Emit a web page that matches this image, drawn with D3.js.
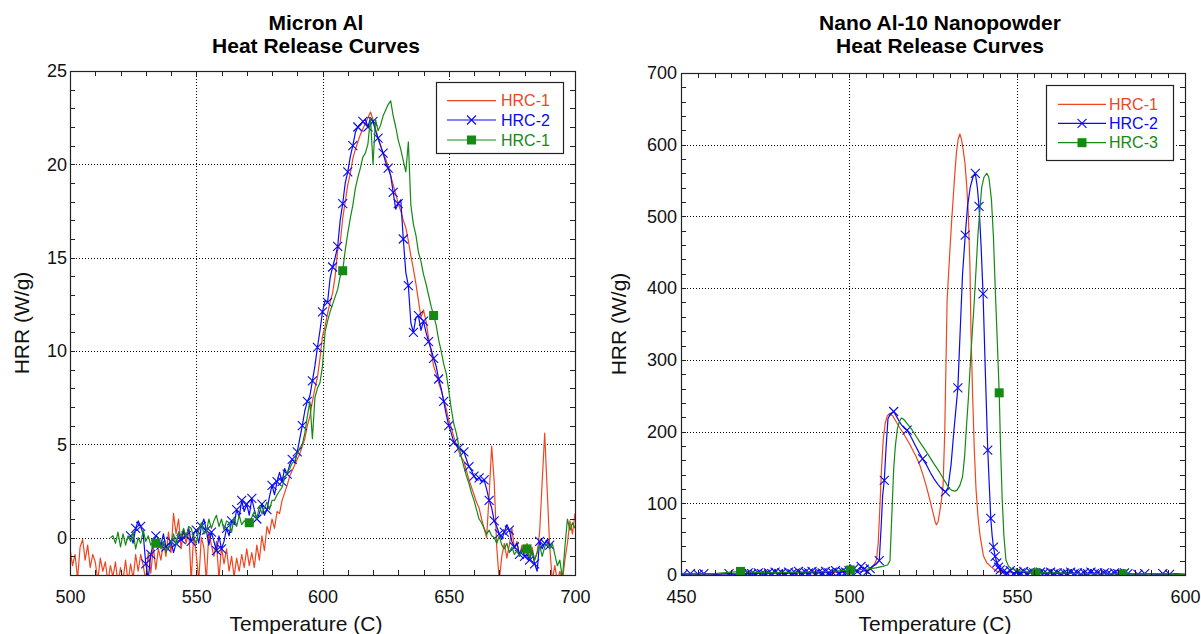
<!DOCTYPE html>
<html lang="en">
<head>
<meta charset="UTF-8">
<title>Heat Release Curves</title>
<style>
body { margin: 0; background: #fff; }
svg { display: block; font-family: "Liberation Sans", Arial, sans-serif; }
.grid line { stroke: #000; stroke-width: 1; stroke-dasharray: 1,2; shape-rendering: crispEdges; }
.minor line { stroke: #222; shape-rendering: crispEdges; }
.grid .domain, .minor .domain, .labels .domain { display: none; }
.labels text { font-size: 18px; font-family: "Liberation Sans", Arial, sans-serif; fill: #111; }
.title { font-size: 21px; font-weight: bold; fill: #000; }
.axis-title { font-size: 21px; fill: #111; }
.legend text { font-size: 16px; }
</style>
</head>
<body>
<svg width="1201" height="634"></svg>
<script src="https://d3js.org/d3.v7.min.js"></script>
<script>
// ---------- Micron Al (sampled every 1 C) ----------
const micronStep = 1;
const micronXTicks = [500, 550, 600, 650, 700];
const micronYTicks = [0, 5, 10, 15, 20, 25];
const micronLegend = ['HRC-1', 'HRC-2', 'HRC-1'];

const micronRedStart = 500;
const micronRed = [
  -0.6,-1.5,-0.9,-2.2,-0.5,-0.1,-1.2,-0.4,-1.6,-0.9,   // 500
  -1.3,-2.3,-1.1,-1.8,-1.3,-2.4,-1.5,-2.1,-1.3,-2.5,   // 510
  -1.6,-2.3,-1.2,-2.4,-1.4,-2.2,-0.9,-1.8,-0.9,-1.5,   // 520
  -2.3,-0.8,-1.9,-0.5,-1.7,-0.6,-1.2,-0.2,-1.0,0.3,    // 530
  -0.8,1.3,0.2,1.0,-0.6,0.4,-0.3,0.5,-2.3,0.2,         // 540
  -0.9,-2.3,0.0,-0.5,-2.3,0.3,-0.4,-1.0,-0.2,-2.2,     // 550
  -0.5,-1.4,-0.6,-1.8,-1.0,-2.1,-1.1,-1.8,-0.9,-1.6,   // 560
  -0.6,-1.5,-0.8,-1.6,-0.4,-1.2,0.1,-0.7,0.6,0.2,      // 570
  1.0,0.5,1.4,1.3,2.0,2.4,2.8,3.3,3.6,3.9,             // 580
  4.2,4.5,4.9,5.3,6.0,6.5,7.3,8.0,8.6,9.6,             // 590
  10.8,11.3,12.0,12.6,13.1,14.0,15.4,15.8,17.1,18.0,   // 600
  18.9,19.5,20.3,20.8,21.2,21.6,21.9,22.2,22.5,22.8,   // 610
  22.4,21.9,21.4,21.0,20.6,20.3,19.9,19.4,18.9,18.4,   // 620
  17.9,17.5,17.0,16.6,15.9,15.1,14.4,13.6,12.7,11.8,   // 630
  12.2,11.6,10.7,10.0,9.2,8.8,8.3,7.9,7.4,6.9,         // 640
  6.3,5.9,5.4,5.0,4.6,4.3,4.1,3.6,3.1,2.7,             // 650
  2.3,1.9,1.6,1.0,0.5,0.0,2.3,4.9,3.0,-0.5,            // 660
  -2.3,-1.0,-0.3,-1.1,-0.4,0.5,-0.6,-0.2,-1.0,-0.4,    // 670
  -0.9,-0.3,-1.1,-0.5,-1.2,-0.8,0.3,3.0,5.6,2.5,       // 680
  -0.5,-2.3,-1.5,-2.3,-1.8,-2.3,-1.2,-0.3,0.9,0.2,     // 690
  1.3                                                  // 700
];

const micronBlueStart = 524;
const micronBlue = [
  0.1,-0.3,0.5,0.9,0.6,0.2,-1.4,-2.2,-0.9,-0.3,        // 524
  0.1,0.0,-0.4,0.2,-0.5,-0.6,-0.2,-0.8,-0.3,0.3,       // 534
  -0.1,0.4,0.1,0.5,-0.2,0.2,0.4,-0.3,0.6,1.0,          // 544
  0.4,-0.4,0.3,-0.2,-0.7,0.1,-0.6,-0.2,0.5,0.1,        // 554
  0.9,0.7,1.5,1.1,2.0,1.4,1.8,1.2,2.1,1.5,             // 564
  1.0,1.3,1.8,1.2,1.5,2.2,2.8,2.3,3.0,3.5,             // 574
  3.0,3.7,3.4,3.9,4.2,4.0,4.6,5.3,6.0,6.8,             // 584
  7.3,7.6,8.4,9.2,10.2,11.1,12.1,12.7,12.6,13.9,       // 594
  14.5,15.0,15.6,17.0,17.9,19.0,19.6,20.4,21.0,21.7,   // 604
  22.0,22.1,22.3,22.4,22.0,22.5,22.3,21.8,21.4,21.0,   // 614
  20.6,20.1,19.8,19.4,18.5,17.6,17.9,18.1,16.0,14.2,   // 624
  13.5,11.5,11.0,11.8,11.9,11.1,11.6,11.0,10.5,10.1,   // 634
  9.6,9.2,8.5,8.0,7.3,6.6,6.0,5.6,5.1,5.0,             // 644
  4.8,4.7,4.6,4.2,3.8,3.6,3.3,3.1,3.2,3.0,             // 654
  3.1,2.6,2.0,1.6,0.9,0.6,0.2,-0.1,0.3,0.7,            // 664
  0.4,-0.2,-0.5,-0.3,-0.9,-0.6,-1.0,-0.9,-1.2,-0.7,    // 674
  -1.4,-1.8,-0.2,-0.6,-0.3,-0.1,-0.4                   // 684
];
const micronBlueMarkEvery = 2;

const micronGreenStart = 516;
const micronGreen = [
  0.0,0.1,-0.3,0.3,-0.5,0.2,-0.4,0.1,-0.2,0.3,         // 516
  -0.6,0.0,-0.3,0.4,-0.2,0.1,-0.4,-0.2,-0.3,0.0,       // 526
  -0.6,-0.2,-0.8,-0.5,-0.3,0.2,-0.4,0.3,0.1,0.5,       // 536
  0.0,0.6,0.5,0.0,-0.3,0.4,0.8,0.2,0.3,1.0,            // 546
  0.5,0.9,1.2,0.6,1.0,0.4,0.9,0.8,0.3,1.1,             // 556
  0.6,1.2,0.7,0.9,0.8,0.8,1.1,1.4,1.0,1.7,             // 566
  1.3,1.6,1.9,1.5,2.0,2.0,2.3,2.5,2.7,3.2,             // 576
  3.5,3.7,4.0,4.1,4.5,4.8,5.0,5.6,6.5,7.3,             // 586
  5.3,7.5,8.0,8.3,9.2,11.0,11.6,12.1,12.5,12.9,        // 596
  13.3,14.0,14.3,15.4,16.3,17.1,17.8,18.7,19.3,19.8,   // 606
  20.4,20.6,21.1,22.5,20.0,22.4,21.8,22.1,22.6,22.9,   // 616
  23.2,23.4,22.6,22.0,21.3,20.8,20.2,19.6,21.2,17.8,   // 626
  16.8,16.2,15.3,14.8,14.1,13.6,13.0,12.4,11.9,11.4,   // 636
  10.6,10.0,9.3,8.8,7.9,6.9,6.1,5.6,4.9,4.3,           // 646
  3.8,3.3,2.9,2.4,2.0,1.5,1.0,0.8,0.5,0.2,             // 656
  0.4,0.1,0.0,-0.3,0.1,-0.4,-0.6,-0.3,-0.8,-0.5,       // 666
  -0.9,-0.7,-1.0,-0.6,-0.8,-0.6,-1.1,-0.7,-1.2,-0.8,   // 676
  -0.4,-1.0,-0.5,-0.3,-0.6,-0.3,-0.9,-1.5,-1.2,-2.2,   // 686
  -0.5,1.0,0.4,0.8,0.5                                 // 696
];
const micronGreenMarkT = [534, 571, 608, 644, 681];

// ---------- Nano Al-10 (temperature, HRR) ----------
const nanoXTicks = [450, 500, 550, 600];
const nanoYTicks = [0, 100, 200, 300, 400, 500, 600, 700];
const nanoLegend = ['HRC-1', 'HRC-2', 'HRC-3'];

const nanoRed = [
  [450,1],[455,2],[460,1],[465,2],[470,1.5],[475,2.5],[480,2],[485,3],[490,2.5],[495,3.5],
  [500,4],[502,5],[504,5],[505.5,6],[506.5,9],[507.5,14],[508.2,22],[508.7,45],[509.2,95],
  [509.7,150],[510.2,190],[510.8,212],[511.4,222],[512,225],[513,222],[514,214],[515,206],
  [516,199],[517,191],[518,183],[519,174],[520,165],[521,154],[522,140],[523,124],[524,106],
  [525,87],[525.6,75],[526,70],[526.5,74],[527,88],[527.5,104],[528,125],[528.5,200],
  [529.2,383],[530,450],[530.5,490],[531,525],[531.5,560],[532,590],[532.5,608],[533,615],
  [533.5,607],[534,592],[534.5,575],[535,545],[535.5,505],[536,430],[536.3,340],[536.8,250],
  [537.3,174],[537.8,120],[538.4,81],[539,55],[540,27],[541,17],[542.4,11],[544,5],[545,4],
  [547,3],[550,3.5],[555,2.5],[560,2],[565,2.5],[570,2],[575,2],[580,1.5],[585,2],[590,1.5],
  [595,1],[600,1]
];

const nanoBlue = [
  [450,2],[450.6,1],[452.8,2],[455.1,1],[456.8,2],[460,1],[464.3,2],[466,1],[468,2],[469,1],
  [470,3],[471,2],[472,1],[473,3],[474,2],[475,1],[476,3],[477,2],[478,4],[479,2],[480,3],
  [481,1],[482,4],[483,2],[484,3],[485,5],[486,2],[487,4],[488,3],[489,5],[490,2],[491,4],
  [492,3],[493,5],[494,3],[495,4],[496,6],[497,3],[498,5],[499,4],[500,6],[501.5,9],
  [502.5,5],[503.6,12],[504.5,8],[505.5,5],[506.3,9],[507,12],[508,15],[509,20],[509.6,70],
  [510,110],[510.5,132],[511,175],[511.6,218],[512.3,225],[513.3,228],[514.5,218],[515.5,210],
  [516.4,205],[517.3,202],[518.5,192],[519.7,181],[520.8,171],[521.9,162],[523,154],
  [524.2,143],[525.3,134],[526.5,126],[527.6,120],[528.7,116],[529.5,122],[530.4,155],
  [531.2,200],[532.4,261],[533,330],[533.8,420],[534.6,474],[535.3,515],[536.1,541],
  [536.9,555],[537.6,560],[538.2,540],[538.7,514],[539.3,460],[539.9,392],[540.6,280],
  [541.3,174],[541.8,120],[542.2,79],[542.6,55],[543,39],[543.5,26],[544,17],[544.5,11],
  [545,7],[546,5],[547,3],[548,6],[549,2],[550,4],[551,3],[552,5],[553,2],[554,4],[555,3],
  [556,2],[557,4],[558,3],[559,2],[560,4],[561,2],[562,3],[563,1],[564,3],[565,2],[566,4],
  [567,2],[568,3],[569,1],[570,3],[571,2],[572,4],[573,2],[574,3],[575,1],[576,3],[577,2],
  [578,1],[579,3],[580,2],[581,1],[582,3],[583,2],[586,1],[588,2],[592,1],[593.4,2],
  [595.4,1],[597,2],[600,1]
];
const nanoBlueMarkT = [
  450.6,452.8,455.1,456.8,464.3,
  468,469,470,471,472,473,474,475,476,477,478,479,480,481,482,483,484,485,486,487,488,489,
  490,491,492,493,494,495,496,497,498,499,500,
  501.5,502.5,503.6,504.5,505.5,506.3,509,510.5,513.3,517.3,521.9,528.7,532.4,534.6,537.6,
  538.7,539.9,541.3,542.2,543,543.5,544,544.5,545,
  546,547,548,549,550,551,552,553,554,555,556,557,558,559,560,561,562,563,564,565,566,567,
  568,569,570,571,572,573,574,575,576,577,578,579,580,581,582,583,
  586,588,593.4,595.4
];

const nanoGreen = [
  [450,2],[455,1.5],[460,2],[467.7,5],[475,3],[485,4],[495,5],[500.4,7],[505,8],[508,10],
  [510,12],[511.5,14],[512.2,20],[512.8,90],[513.3,148],[513.8,180],[514.4,204],[515,214],
  [515.6,219],[516.3,217],[517.3,211],[518.5,204],[519.5,197],[520.7,188],[522,179],[523,172],
  [524.1,164],[525,157],[526,150],[527,143],[528,135],[529,127],[529.8,121],[530.6,118],
  [531.5,117],[532.1,118],[533,125],[533.8,137],[534.4,165],[535,210],[535.5,244],[536.3,310],
  [537.3,383],[538.4,476],[539.5,541],[540.2,555],[541,560],[541.6,555],[542,540],[542.4,523],
  [543,470],[543.5,402],[544.1,330],[544.7,254],[545.1,180],[545.6,105],[546.1,55],[546.7,21],
  [547.5,12],[548.7,8],[550,6],[555.7,3],[562,3],[570,2],[581.5,1.5],[590,2],[600,1]
];
const nanoGreenMarkT = [467.7, 500.4, 544.7, 555.7, 581.5];

const RED = '#f0461e', BLUE = '#0a0af5', GREEN = '#148a14';

// ---------- helpers ----------
function sampled(start, values) {
  return values.map((v, i) => [start + i * micronStep, v]);
}
function pick(points, temps) {
  var m = new Map(points.map(d => [d[0], d[1]]));
  return temps.filter(t => m.has(t)).map(t => [t, m.get(t)]);
}

var svg = d3.select('svg');

function marker(sel, type, color) {
  if (type === 'x') {
    sel.append('path')
      .attr('d', 'M-4.5,-4.5L4.5,4.5M-4.5,4.5L4.5,-4.5')
      .attr('stroke', color).attr('stroke-width', 1.1).attr('fill', 'none');
  } else if (type === 'square') {
    sel.append('rect')
      .attr('x', -4.5).attr('y', -4.5).attr('width', 9).attr('height', 9)
      .attr('fill', color);
  }
}

function drawPanel(p) {
  var x = d3.scaleLinear().domain(p.xDomain).range([p.left, p.right]);
  var y = d3.scaleLinear().domain(p.yDomain).range([p.bottom, p.top]);
  var w = p.right - p.left, h = p.bottom - p.top;
  var g = svg.append('g');

  // dotted grid on inner major ticks
  var xGrid = p.xTicks.filter(v => v > p.xDomain[0] && v < p.xDomain[1]);
  var yGrid = p.yTicks.filter(v => v > p.yDomain[0] && v < p.yDomain[1]);
  g.append('g').attr('class', 'grid')
    .attr('transform', 'translate(0,' + p.bottom + ')')
    .call(d3.axisBottom(x).tickValues(xGrid).tickSize(-h).tickFormat(''));
  g.append('g').attr('class', 'grid')
    .attr('transform', 'translate(' + p.left + ',0)')
    .call(d3.axisLeft(y).tickValues(yGrid).tickSize(-w).tickFormat(''));

  // curves
  var clipId = 'clip-' + p.id;
  g.append('clipPath').attr('id', clipId).append('rect')
    .attr('x', p.left).attr('y', p.top).attr('width', w).attr('height', h);
  var plot = g.append('g').attr('clip-path', 'url(#' + clipId + ')');
  var line = d3.line().x(d => x(d[0])).y(d => y(d[1]));

  p.series.forEach(function(s) {
    plot.append('path').datum(s.points)
      .attr('fill', 'none').attr('stroke', s.color).attr('stroke-width', 1.2)
      .attr('stroke-linejoin', 'round')
      .attr('d', line);
    plot.append('g').selectAll('g').data(s.marks).join('g')
      .attr('transform', d => 'translate(' + x(d[0]) + ',' + y(d[1]) + ')')
      .each(function() { marker(d3.select(this), s.marker, s.color); });
  });

  // frame
  g.append('rect')
    .attr('x', p.left + 0.5).attr('y', p.top + 0.5)
    .attr('width', w).attr('height', h)
    .attr('fill', 'none').attr('stroke', '#222').attr('stroke-width', 1.2);

  // inward minor ticks on all four sides
  var xMinor = d3.range(p.xDomain[0], p.xDomain[1] + 0.001, p.xMinorStep);
  var yMinor = d3.range(p.yDomain[0], p.yDomain[1] + 0.001, p.yMinorStep);
  g.append('g').attr('class', 'minor').attr('transform', 'translate(0,' + p.bottom + ')')
    .call(d3.axisBottom(x).tickValues(xMinor).tickSizeInner(-5).tickSizeOuter(0).tickFormat(''));
  g.append('g').attr('class', 'minor').attr('transform', 'translate(0,' + p.top + ')')
    .call(d3.axisTop(x).tickValues(xMinor).tickSizeInner(-5).tickSizeOuter(0).tickFormat(''));
  g.append('g').attr('class', 'minor').attr('transform', 'translate(' + p.left + ',0)')
    .call(d3.axisLeft(y).tickValues(yMinor).tickSizeInner(-5).tickSizeOuter(0).tickFormat(''));
  g.append('g').attr('class', 'minor').attr('transform', 'translate(' + p.right + ',0)')
    .call(d3.axisRight(y).tickValues(yMinor).tickSizeInner(-5).tickSizeOuter(0).tickFormat(''));

  // tick labels
  g.append('g').attr('class', 'labels').attr('transform', 'translate(0,' + p.bottom + ')')
    .call(d3.axisBottom(x).tickValues(p.xTicks).tickSize(0).tickPadding(15).tickFormat(d3.format('d')));
  g.append('g').attr('class', 'labels').attr('transform', 'translate(' + p.left + ',0)')
    .call(d3.axisLeft(y).tickValues(p.yTicks).tickSize(0).tickPadding(p.yPad).tickFormat(d3.format('d')));

  // titles
  p.title.forEach(function(t, i) {
    g.append('text').attr('class', 'title')
      .attr('x', p.titleX).attr('y', 30 + i * 22.7)
      .attr('text-anchor', 'middle').text(t);
  });
  g.append('text').attr('class', 'axis-title')
    .attr('x', p.xLabelX).attr('y', 631)
    .attr('text-anchor', 'middle').text('Temperature (C)');
  g.append('text').attr('class', 'axis-title')
    .attr('transform', 'translate(' + p.yLabelX + ',' + ((p.top + p.bottom) / 2) + ') rotate(-90)')
    .attr('text-anchor', 'middle').text('HRR (W/g)');

  // legend
  var L = p.legend;
  var lg = g.append('g').attr('class', 'legend');
  lg.append('rect')
    .attr('x', L.x + 0.5).attr('y', L.y + 0.5).attr('width', L.w).attr('height', L.h)
    .attr('fill', '#fff').attr('stroke', '#222').attr('stroke-width', 1.2);
  p.series.forEach(function(s, i) {
    var ry = L.rows[i];
    lg.append('line')
      .attr('x1', L.lineX[0]).attr('x2', L.lineX[1]).attr('y1', ry).attr('y2', ry)
      .attr('stroke', s.color).attr('stroke-width', 1.2);
    marker(lg.append('g').attr('transform', 'translate(' + ((L.lineX[0] + L.lineX[1]) / 2) + ',' + ry + ')'),
      s.marker, s.color);
    lg.append('text').attr('x', L.textX).attr('y', ry).attr('dy', '0.36em')
      .attr('fill', s.color).text(p.legendLabels[i]);
  });
}

var micronBluePts = sampled(micronBlueStart, micronBlue);
var micronGreenPts = sampled(micronGreenStart, micronGreen);

drawPanel({
  id: 'micron',
  left: 70, right: 575, top: 71, bottom: 575,
  xDomain: [500, 700], yDomain: [-2, 25],
  xTicks: micronXTicks, yTicks: micronYTicks,
  xMinorStep: 10, yMinorStep: 1, yPad: 3,
  title: ['Micron Al', 'Heat Release Curves'], titleX: 316,
  xLabelX: 306, yLabelX: 28.5,
  legendLabels: micronLegend,
  legend: { x: 436, y: 82, w: 127, h: 71, rows: [100.7, 120, 140], lineX: [447, 496], textX: 501 },
  series: [
    { points: sampled(micronRedStart, micronRed), marks: [], marker: 'none', color: RED },
    { points: micronBluePts, marks: micronBluePts.filter((d, i) => i % micronBlueMarkEvery === 0), marker: 'x', color: BLUE },
    { points: micronGreenPts, marks: pick(micronGreenPts, micronGreenMarkT), marker: 'square', color: GREEN }
  ]
});

drawPanel({
  id: 'nano',
  left: 681, right: 1185, top: 73, bottom: 575,
  xDomain: [450, 600], yDomain: [0, 700],
  xTicks: nanoXTicks, yTicks: nanoYTicks,
  xMinorStep: 5, yMinorStep: 20, yPad: 4,
  title: ['Nano Al-10 Nanopowder', 'Heat Release Curves'], titleX: 940,
  xLabelX: 935, yLabelX: 626,
  legendLabels: nanoLegend,
  legend: { x: 1046, y: 85, w: 127, h: 75, rows: [104.3, 123.3, 142.7], lineX: [1058, 1106], textX: 1109 },
  series: [
    { points: nanoRed, marks: [], marker: 'none', color: RED },
    { points: nanoBlue, marks: pick(nanoBlue, nanoBlueMarkT), marker: 'x', color: BLUE },
    { points: nanoGreen, marks: pick(nanoGreen, nanoGreenMarkT), marker: 'square', color: GREEN }
  ]
});
</script>
</body>
</html>
